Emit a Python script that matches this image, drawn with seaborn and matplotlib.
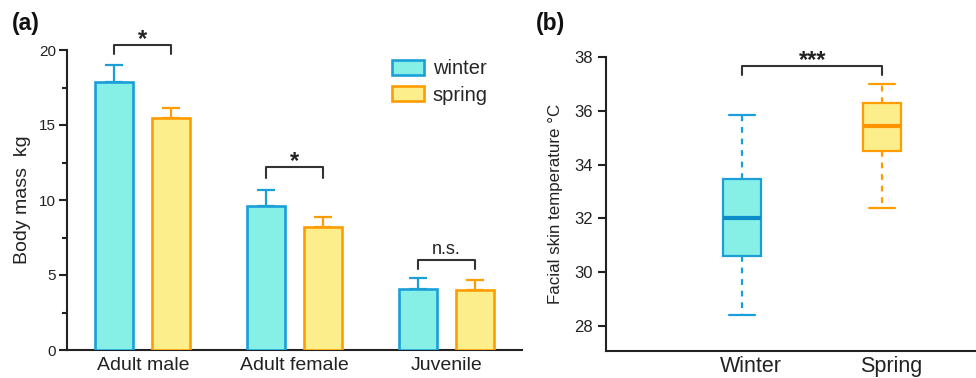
import numpy as np
import pandas as pd
import matplotlib
matplotlib.use("Agg")
import matplotlib.pyplot as plt
import matplotlib.transforms as mtransforms
from matplotlib.patches import Patch
from matplotlib.ticker import MultipleLocator
import seaborn as sns

# ---------------- data ----------------
groups = ["Adult male", "Adult female", "Juvenile"]
seasons = ["winter", "spring"]
winter_mass = [17.9, 9.6, 4.1]
spring_mass = [15.5, 8.2, 4.0]
winter_err = [1.1, 1.1, 0.7]
spring_err = [0.6, 0.7, 0.7]
sig_labels_a = ["*", "*", "n.s."]
bracket_y_a = [20.35, 12.2, 6.0]
bracket_leg_a = [0.6, 0.7, 0.6]

box_seasons = ["Winter", "Spring"]
# five-number summaries (min, Q1, median, Q3, max)
winter_temp = [28.4, 30.6, 32.0, 33.45, 35.85]
spring_temp = [32.4, 34.5, 35.45, 36.3, 37.0]
sig_label_b = "***"
bracket_y_b = 37.68
bracket_leg_b = 0.34

fill_colors = {"winter": "#86EFE6", "spring": "#FDEE8C"}
edge_colors = {"winter": "#1A9FD9", "spring": "#FF9C00"}
median_colors = {"winter": "#0A8CC8", "spring": "#FF9400"}

sns.set_style("ticks")
plt.rcParams["font.family"] = ["Liberation Sans", "DejaVu Sans"]
plt.rcParams["axes.edgecolor"] = "#222222"
plt.rcParams["axes.linewidth"] = 1.5

fig = plt.figure(figsize=(9.76, 3.78), dpi=100)
ax1 = fig.add_axes([67 / 976, 1 - 350 / 378, 455 / 976, 300 / 378])
ax2 = fig.add_axes([605.7 / 976, 1 - 350.7 / 378, 1 - 605.7 / 976, (350.7 - 57.3) / 378])

# ---------------- panel (a) ----------------
df_a = pd.DataFrame({
    "group": groups * 2,
    "season": ["winter"] * 3 + ["spring"] * 3,
    "mass": winter_mass + spring_mass,
    "err": winter_err + spring_err,
})
sns.barplot(data=df_a, x="group", y="mass", hue="season", order=groups,
            hue_order=seasons, palette=fill_colors, saturation=1,
            errorbar=None, width=0.75, gap=0.333, linewidth=1.9,
            legend=False, ax=ax1)

errs = {"winter": winter_err, "spring": spring_err}
centers = {}
for season, cont in zip(seasons, ax1.containers):
    cs = []
    for bar, e in zip(cont, errs[season]):
        bar.set_edgecolor(edge_colors[season])
        bar.set_zorder(3)
        xc = bar.get_x() + bar.get_width() / 2
        cs.append(xc)
        ax1.errorbar(xc, bar.get_height(), yerr=[[0], [e]], fmt="none",
                     ecolor=edge_colors[season], elinewidth=1.6,
                     capsize=6.5, capthick=1.6, zorder=2)
    centers[season] = cs

ax1.set_ylim(0, 20)
ax1.set_xlim(-0.5, 2.5)
ax1.yaxis.set_major_locator(MultipleLocator(5))
ax1.yaxis.set_minor_locator(MultipleLocator(2.5))
ax1.tick_params(axis="y", which="major", length=6, width=1.5, labelsize=11,
                pad=2, colors="#222222", labelcolor="#222222")
ax1.tick_params(axis="y", which="minor", length=3.5, width=1.5, colors="#222222")
ax1.tick_params(axis="x", length=0, labelsize=14, pad=5, labelcolor="#222222")
ax1.set_xlabel("")
ax1.set_ylabel("Body mass  kg", fontsize=14, labelpad=6, color="#222222")
sns.despine(ax=ax1)

for i in range(len(groups)):
    x0, x1 = centers["winter"][i], centers["spring"][i]
    y = bracket_y_a[i]
    ax1.plot([x0, x0, x1, x1], [y - bracket_leg_a[i], y, y, y - bracket_leg_a[i]],
             color="#333333", lw=1.5, clip_on=False)
    if sig_labels_a[i] == "*":
        ax1.text((x0 + x1) / 2, y - 0.42, "*", ha="center", va="bottom",
                 fontsize=17, fontweight="bold", color="#222222", clip_on=False)
    else:
        ax1.text((x0 + x1) / 2, y + 0.1, sig_labels_a[i], ha="center", va="bottom",
                 fontsize=13, color="#222222", clip_on=False)

handles = [Patch(facecolor=fill_colors[s], edgecolor=edge_colors[s], linewidth=1.9)
           for s in seasons]
fig.legend(handles=handles, labels=seasons, loc="upper left",
           bbox_to_anchor=(391.5 / 976, 1 - 59.5 / 378), frameon=False,
           fontsize=14.5, handlelength=1.6, handleheight=0.75,
           handletextpad=0.45, labelspacing=0.35, borderpad=0, borderaxespad=0)

# ---------------- panel (b) ----------------
df_b = pd.DataFrame({
    "season": ["Winter"] * 5 + ["Spring"] * 5,
    "temp": winter_temp + spring_temp,
})
for s_cap, s in zip(box_seasons, seasons):
    sub = df_b[df_b["season"] == s_cap]
    sns.boxplot(data=sub, x="season", y="temp", order=box_seasons,
                color=fill_colors[s], saturation=1, width=0.27, whis=(0, 100),
                linecolor=edge_colors[s], linewidth=1.6, showfliers=False,
                whiskerprops={"linestyle": (0, (2.6, 2.6)), "linewidth": 1.6},
                capprops={"linewidth": 1.6},
                medianprops={"color": median_colors[s], "linewidth": 3},
                capwidths=0.184, ax=ax2)

ax2.set_ylim(27.07, 38)
ax2.set_xlim(-0.976, 1.67)
ax2.yaxis.set_major_locator(MultipleLocator(2))
ax2.tick_params(axis="y", length=6, width=1.5, labelsize=12, pad=3.5,
                colors="#222222", labelcolor="#222222")
ax2.tick_params(axis="x", length=0, labelsize=15.5, pad=4, labelcolor="#222222")
ax2.set_xlabel("")
ax2.set_ylabel("Facial skin temperature °C", fontsize=12.2, labelpad=8, color="#222222")
sns.despine(ax=ax2)
offset = mtransforms.ScaledTranslation(9 / 100, 0, fig.dpi_scale_trans)
for lab in ax2.get_xticklabels():
    lab.set_transform(lab.get_transform() + offset)

ax2.plot([0, 0, 1, 1], [bracket_y_b - bracket_leg_b, bracket_y_b, bracket_y_b,
                        bracket_y_b - bracket_leg_b],
         color="#333333", lw=1.5, clip_on=False)
ax2.text(0.5, bracket_y_b - 0.22, sig_label_b, ha="center", va="bottom",
         fontsize=17, fontweight="bold", color="#222222", clip_on=False)

# ---------------- panel labels ----------------
fig.text(12 / 976, 1 - 12 / 378, "(a)", fontsize=16.5, fontweight="bold",
         ha="left", va="top", color="#111111")
fig.text(536 / 976, 1 - 12 / 378, "(b)", fontsize=16.5, fontweight="bold",
         ha="left", va="top", color="#111111")

fig.savefig("out.png", dpi=100)
